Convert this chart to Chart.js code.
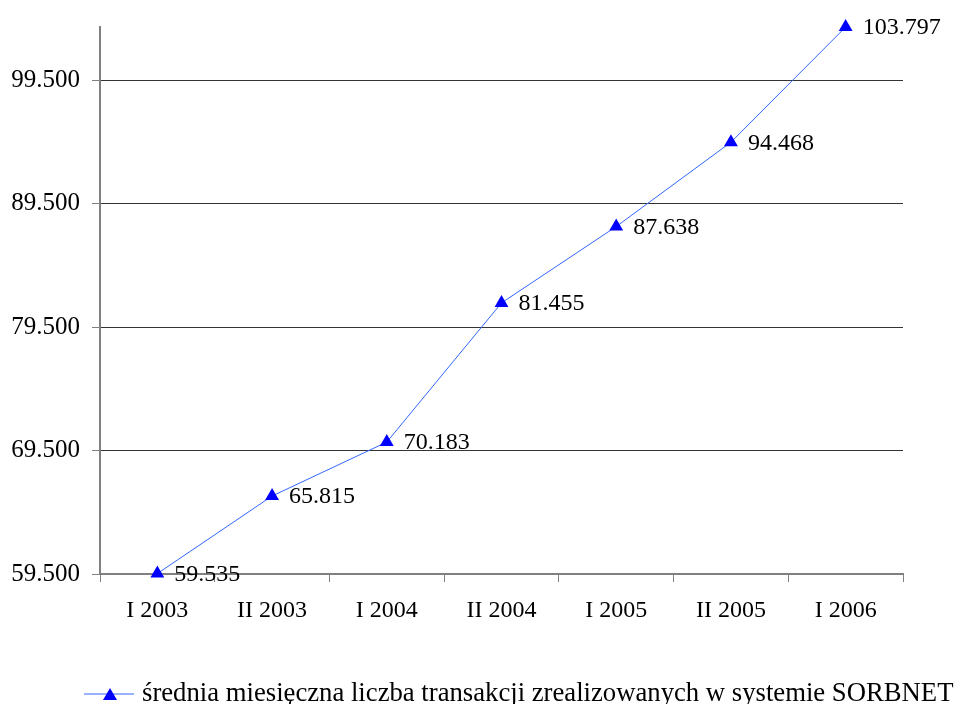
<!DOCTYPE html>
<html>
<head>
<meta charset="utf-8">
<script src="https://cdn.jsdelivr.net/npm/chart.js@4/dist/chart.umd.min.js"></script>
<style>
  html, body { margin: 0; padding: 0; background: #fff; }
  #wrap { width: 958px; height: 704px; }
</style>
</head>
<body>
<div id="wrap"><canvas id="chart" width="958" height="704"></canvas></div>
<script>
// data
const categories = ["I 2003", "II 2003", "I 2004", "II 2004", "I 2005", "II 2005", "I 2006"];
const transactions = [59535, 65815, 70183, 81455, 87638, 94468, 103797];
const yTicks = [59500, 69500, 79500, 89500, 99500];
const seriesName = "średnia miesięczna liczba transakcji zrealizowanych w systemie SORBNET";

const serif = "'Liberation Serif', 'Times New Roman', serif";

// 59535 -> "59.535"
function fmt(v) {
  return String(Math.round(v)).replace(/\B(?=(\d{3})+(?!\d))/g, ".");
}

// value labels next to each point
const valueLabels = {
  id: 'valueLabels',
  afterDatasetsDraw(chart) {
    const ctx = chart.ctx;
    const meta = chart.getDatasetMeta(0);
    ctx.save();
    ctx.font = "24px " + serif;
    ctx.fillStyle = "#000";
    ctx.textAlign = "left";
    ctx.textBaseline = "middle";
    meta.data.forEach((pt, i) => {
      ctx.fillText(fmt(transactions[i]), pt.x + 17, pt.y + 1);
    });
    ctx.restore();
  }
};

// legend under the chart, same look as the original
const bottomLegend = {
  id: 'bottomLegend',
  afterDraw(chart) {
    const ctx = chart.ctx;
    const y = 694;
    ctx.save();
    ctx.strokeStyle = "#3366ff";
    ctx.lineWidth = 1;
    ctx.beginPath();
    ctx.moveTo(84, y);
    ctx.lineTo(134, y);
    ctx.stroke();
    ctx.fillStyle = "#0000ff";
    ctx.beginPath();
    ctx.moveTo(110, y - 6);
    ctx.lineTo(117, y + 6);
    ctx.lineTo(103, y + 6);
    ctx.closePath();
    ctx.fill();
    ctx.font = "26.7px " + serif;
    ctx.fillStyle = "#000";
    ctx.textAlign = "left";
    ctx.textBaseline = "middle";
    ctx.fillText(seriesName, 142, y);
    ctx.restore();
  }
};

new Chart(document.getElementById('chart'), {
  type: 'line',
  data: {
    labels: categories,
    datasets: [{
      label: seriesName,
      data: transactions,
      borderColor: "#3366ff",
      borderWidth: 1,
      pointStyle: 'triangle',
      pointRadius: 8,
      pointHoverRadius: 8,
      pointBackgroundColor: "#0000ff",
      pointBorderColor: "#0000ff",
      pointBorderWidth: 0,
      tension: 0,
      clip: false
    }]
  },
  options: {
    responsive: false,
    animation: false,
    devicePixelRatio: 1,
    layout: { padding: { left: 0, right: 55, top: 25, bottom: 0 } },
    plugins: {
      legend: { display: false },
      tooltip: { enabled: false }
    },
    scales: {
      x: {
        offset: true,
        grid: {
          offset: true,
          drawOnChartArea: false,
          drawTicks: true,
          tickLength: 8,
          color: "#808080"
        },
        border: { color: "#808080", width: 2 },
        ticks: {
          color: "#000",
          font: { family: serif, size: 24 },
          padding: 14,
          maxRotation: 0
        },
        afterFit(s) { s.height = 130; }
      },
      y: {
        min: 59500,
        max: 103800,
        grid: {
          color: "#333",
          lineWidth: 1,
          tickLength: 8,
          tickColor: "#808080",
          drawTicks: true
        },
        border: { color: "#808080", width: 2 },
        ticks: {
          color: "#000",
          font: { family: serif, size: 25 },
          padding: 12,
          callback: v => fmt(v)
        },
        afterBuildTicks(s) { s.ticks = yTicks.map(v => ({ value: v })); },
        afterFit(s) { s.width = 100; }
      }
    }
  },
  plugins: [valueLabels, bottomLegend]
});
</script>
</body>
</html>
